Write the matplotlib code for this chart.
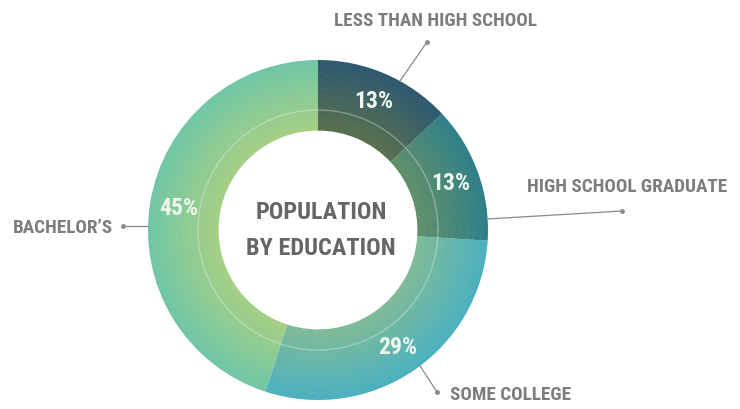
import matplotlib
matplotlib.use("Agg")
import matplotlib.pyplot as plt
import matplotlib.font_manager as fm
import numpy as np
from matplotlib.colors import to_rgb

# dados
categorias = ["LESS THAN HIGH SCHOOL", "HIGH SCHOOL GRADUATE", "SOME COLLEGE", "BACHELOR\u2019S"]
valores = [13, 13, 29, 45]
cor_externa = ["#2c5870", "#2f7f88", "#4bb0c0", "#70c6a6"]
cor_interna = ["#5a704e", "#62906a", "#80bb96", "#a6cf84"]
titulo = ["POPULATION", "BY EDUCATION"]


def achar_fonte():
    prefer = ["RobotoCondensed-Bold", "RobotoCondensed-Medium", "LiberationSansNarrow-Bold",
              "DejaVuSansCondensed-Bold", "RobotoCondensed", "Narrow", "Condensed"]
    arquivos = [f.fname for f in fm.fontManager.ttflist]
    for p in prefer:
        for a in arquivos:
            if p in a.split("/")[-1]:
                return fm.FontProperties(fname=a), True
    return fm.FontProperties(family="DejaVu Sans", weight="bold"), False


fonte, condensada = achar_fonte()

fig = plt.figure(figsize=(7.4, 4.1), dpi=100)
ax = fig.add_axes([0, 0, 1, 1])

cx, cy = 318, 179
r_in, r_out = 100, 170
n = 40
passo = (r_out - r_in) / n
for i in range(n):
    t = (i + 0.5) / n
    cores = [tuple((1 - t) * np.array(to_rgb(a)) + t * np.array(to_rgb(b)))
             for a, b in zip(cor_interna, cor_externa)]
    ax.pie(valores, radius=r_in + (i + 1) * passo, center=(cx, cy), startangle=90,
           counterclock=False, colors=cores,
           wedgeprops=dict(width=passo + 0.6, linewidth=0))

# pie mexe nos limites, entao define depois
ax.set_xlim(0, 740)
ax.set_ylim(0, 410)
ax.set_aspect("equal")
ax.axis("off")

# anel claro interno
ang = np.linspace(0, 2 * np.pi, 300)
ax.plot(cx + 120 * np.cos(ang), cy + 120 * np.sin(ang), color="white", alpha=0.3, lw=1)

# porcentagens
escala = 1.0 if condensada else 0.8
inicio = 90
acum = 0
for v in valores:
    meio = np.deg2rad(inicio - (acum + v / 2) * 3.6)
    acum += v
    ax.text(cx + 141 * np.cos(meio), cy + 141 * np.sin(meio), f"{v}%",
            fontproperties=fonte, fontsize=17 * escala, color="#eef6ec",
            ha="center", va="center")

# titulo central
ax.text(cx + 3, 410 - 213, titulo[0], fontproperties=fonte, fontsize=17.5 * escala,
        color="#666666", ha="center", va="center")
ax.text(cx + 3, 410 - 249, titulo[1], fontproperties=fonte, fontsize=17.5 * escala,
        color="#666666", ha="center", va="center")

# rotulos com linhas
cinza = "#7d7d7d"
linhas = [((400, 82), (427, 43)), ((487, 220), (622, 212)),
          ((420, 367), (437, 393)), ((148, 227), (123, 227))]
for (x0, y0), (x1, y1) in linhas:
    ax.plot([x0, x1], [410 - y0, 410 - y1], color="#8a8a8a", lw=0.9)
    ax.plot(x1, 410 - y1, "o", color="#8a8a8a", ms=2.5)

pos_rotulos = [(435, 21, "center"), (627, 187, "center"), (450, 395, "left"), (113, 228, "right")]
for nome, (x, y, ha) in zip(categorias, pos_rotulos):
    ax.text(x, 410 - y, nome, fontproperties=fonte, fontsize=13.8 * escala, color=cinza,
            ha=ha, va="center")

fig.savefig("out.png", dpi=100)
